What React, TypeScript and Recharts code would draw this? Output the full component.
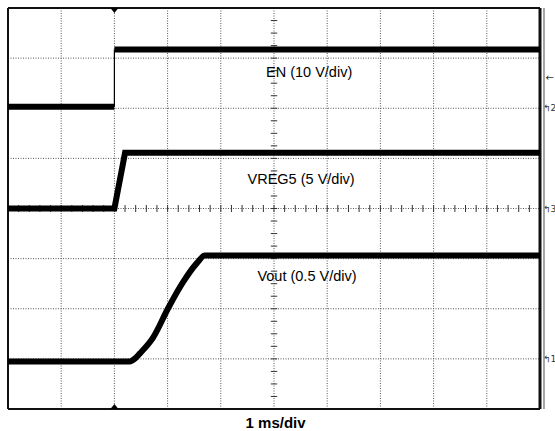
import { ComposedChart, Line, XAxis, YAxis, ReferenceLine, ReferenceDot } from 'recharts'

// time in divisions (1 ms/div), level in divisions from the bottom of the screen
const enLow = [
  { t: 0, v: 6.03 },
  { t: 2.0, v: 6.03 },
]
const enEdge = [
  { t: 2.0, v: 6.03 },
  { t: 2.0, v: 7.17 },
]
const enHigh = [
  { t: 2.0, v: 7.17 },
  { t: 10, v: 7.17 },
]

const vreg5Trace = [
  { t: 0, v: 4.0 },
  { t: 2.0, v: 4.0 },
  { t: 2.2, v: 5.11 },
  { t: 10, v: 5.11 },
]

const voutTrace = [
  { t: 0, v: 0.95 },
  { t: 2.29, v: 0.95 },
  { t: 2.39, v: 1.01 },
  { t: 2.48, v: 1.11 },
  { t: 2.73, v: 1.43 },
  { t: 3.01, v: 2.01 },
  { t: 3.29, v: 2.53 },
  { t: 3.55, v: 2.91 },
  { t: 3.7, v: 3.06 },
  { t: 10, v: 3.06 },
]

const gridX = [1, 2, 3, 4, 5, 6, 7, 8, 9]
const gridY = [1, 2, 3, 4, 5, 6, 7]

// graticule minor marks along the centre lines
const minorX = Array.from({ length: 51 }, (_, i) => i * 0.2)
const minorY = Array.from({ length: 33 }, (_, i) => i * 0.25)

const channelLabels = [
  { t: 5.66, v: 6.72, text: 'EN (10 V/div)' },
  { t: 5.51, v: 4.6, text: 'VREG5 (5 V/div)' },
  { t: 5.62, v: 2.66, text: 'Vout (0.5 V/div)' },
]

const groundMarkers = [
  { v: 6.0, text: '↰2' },
  { v: 4.0, text: '↰3' },
  { v: 1.0, text: '↰1' },
]

const font = '"Liberation Sans", Arial, sans-serif'

const triangleDown = (p: any) => (
  <path d={`M${p.cx - 4},${p.cy}L${p.cx + 4},${p.cy}L${p.cx},${p.cy + 5}Z`} fill="#000" />
)
const triangleUp = (p: any) => (
  <path d={`M${p.cx - 4},${p.cy}L${p.cx + 4},${p.cy}L${p.cx},${p.cy - 5}Z`} fill="#000" />
)

export default function App() {
  return (
    <div style={{ position: 'absolute', left: 0, top: 0, width: 555, height: 431, background: '#fff' }}>
      <ComposedChart width={555} height={431} margin={{ top: 8, right: 15, bottom: 22, left: 8 }}>
        <XAxis type="number" dataKey="t" domain={[0, 10]} hide allowDuplicatedCategory={false} />
        <YAxis type="number" domain={[0, 8]} hide />

        {gridX.map((x) => (
          <ReferenceLine key={'gx' + x} x={x} stroke="#555" strokeDasharray="1 1.5" />
        ))}
        {gridY.map((y) => (
          <ReferenceLine key={'gy' + y} y={y} stroke="#555" strokeDasharray="1 1.5" />
        ))}
        {minorX.map((x) => (
          <ReferenceLine
            key={'mx' + x}
            segment={[
              { x, y: 3.93 },
              { x, y: 4.07 },
            ]}
            stroke="#333"
          />
        ))}
        {minorY.map((y) => (
          <ReferenceLine
            key={'my' + y}
            segment={[
              { x: 4.94, y },
              { x: 5.06, y },
            ]}
            stroke="#333"
          />
        ))}

        <ReferenceLine x={0} stroke="#111" strokeWidth={2} />
        <ReferenceLine y={8} stroke="#111" strokeWidth={2} />
        <ReferenceLine y={0} stroke="#111" strokeWidth={2} />
        <ReferenceLine x={10} stroke="#111" strokeWidth={3} />
        <ReferenceLine x={10.075} stroke="#888" strokeWidth={1.5} ifOverflow="visible" />

        <Line data={enLow} dataKey="v" type="linear" stroke="#000" strokeWidth={6} dot={false} isAnimationActive={false} />
        <Line data={enEdge} dataKey="v" type="linear" stroke="#000" strokeWidth={1.2} dot={false} isAnimationActive={false} />
        <Line data={enHigh} dataKey="v" type="linear" stroke="#000" strokeWidth={6} dot={false} isAnimationActive={false} />
        <Line data={vreg5Trace} dataKey="v" type="linear" stroke="#000" strokeWidth={6} dot={false} isAnimationActive={false} />
        <Line data={voutTrace} dataKey="v" type="monotone" stroke="#000" strokeWidth={6} dot={false} isAnimationActive={false} />

        <ReferenceDot x={2} y={8} r={0} shape={triangleDown} ifOverflow="visible" />
        <ReferenceDot x={2} y={0} r={0} shape={triangleUp} ifOverflow="visible" />

        {channelLabels.map((l) => (
          <ReferenceDot
            key={l.text}
            x={l.t}
            y={l.v}
            r={0}
            fill="none"
            stroke="none"
            label={{ value: l.text, position: 'center', fill: '#000', fontSize: 14.5, fontFamily: font }}
          />
        ))}

        <ReferenceDot
          x={10.18}
          y={6.62}
          r={0}
          fill="none"
          stroke="none"
          ifOverflow="visible"
          label={{ value: '←', position: 'center', fill: '#333', fontSize: 10, fontFamily: '"DejaVu Sans"' }}
        />
        {groundMarkers.map((g) => (
          <ReferenceDot
            key={g.text}
            x={10.18}
            y={g.v}
            r={0}
            fill="none"
            stroke="none"
            ifOverflow="visible"
            label={{ value: g.text, position: 'center', fill: '#333', fontSize: 9, fontFamily: '"DejaVu Sans"' }}
          />
        ))}

        <ReferenceDot
          x={5.03}
          y={-0.27}
          r={0}
          fill="none"
          stroke="none"
          ifOverflow="visible"
          label={{ value: '1 ms/div', position: 'center', fill: '#000', fontSize: 15, fontWeight: 'bold', fontFamily: font }}
        />
      </ComposedChart>
    </div>
  )
}
